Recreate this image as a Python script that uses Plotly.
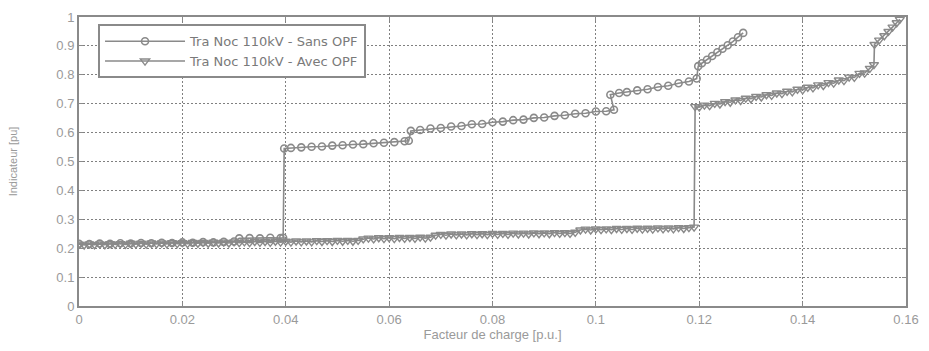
import plotly.graph_objects as go

# ---- data ----
x_sans = [0.000, 0.002, 0.004, 0.006, 0.008, 0.010, 0.012, 0.014, 0.016, 0.018,
          0.020, 0.022, 0.024, 0.026, 0.028, 0.030, 0.031, 0.033, 0.035, 0.037,
          0.039, 0.0395,
          0.0397, 0.041, 0.043, 0.045, 0.047, 0.049, 0.051, 0.053, 0.055, 0.057,
          0.059, 0.061, 0.063, 0.0638,
          0.0642, 0.066, 0.068, 0.070, 0.072, 0.074, 0.076, 0.078, 0.080, 0.082,
          0.084, 0.086, 0.088, 0.090, 0.092, 0.094, 0.096, 0.098, 0.100, 0.102,
          0.1035,
          0.1028, 0.1045, 0.106, 0.108, 0.110, 0.112, 0.114, 0.116, 0.118, 0.1195,
          0.1198, 0.1205, 0.1215, 0.1225, 0.1235, 0.1245, 0.1255, 0.1265, 0.1275,
          0.1285]
y_sans = [0.215, 0.214, 0.216, 0.215, 0.217, 0.216, 0.218, 0.217, 0.219, 0.218,
          0.220, 0.219, 0.221, 0.220, 0.222, 0.223, 0.234, 0.235, 0.234, 0.236,
          0.235, 0.236,
          0.545, 0.547, 0.549, 0.551, 0.552, 0.555, 0.556, 0.559, 0.560, 0.563,
          0.565, 0.567, 0.570, 0.572,
          0.606, 0.609, 0.614, 0.616, 0.621, 0.623, 0.629, 0.630, 0.636, 0.638,
          0.643, 0.645, 0.651, 0.652, 0.658, 0.660, 0.665, 0.667, 0.673, 0.674,
          0.679,
          0.731, 0.737, 0.740, 0.746, 0.750, 0.758, 0.762, 0.771, 0.777, 0.787,
          0.830, 0.840, 0.852, 0.865, 0.878, 0.890, 0.902, 0.915, 0.930, 0.945]

x_avec = [0.000, 0.001, 0.002, 0.003, 0.004, 0.005, 0.006, 0.007, 0.008, 0.009,
          0.010, 0.011, 0.012, 0.013, 0.014, 0.015, 0.016, 0.017, 0.018, 0.019,
          0.020, 0.021, 0.022, 0.023, 0.024, 0.025, 0.026, 0.027, 0.028, 0.029,
          0.030, 0.031, 0.032, 0.033, 0.034, 0.035, 0.036, 0.037, 0.038, 0.039,
          0.040, 0.041, 0.042, 0.043, 0.044, 0.045, 0.046, 0.047, 0.048, 0.049,
          0.050, 0.051, 0.052, 0.053, 0.054, 0.055, 0.056, 0.057, 0.058, 0.059,
          0.060, 0.061, 0.062, 0.063, 0.064, 0.065, 0.066, 0.067, 0.068, 0.069,
          0.070, 0.071, 0.072, 0.073, 0.074, 0.075, 0.076, 0.077, 0.078, 0.079,
          0.080, 0.081, 0.082, 0.083, 0.084, 0.085, 0.086, 0.087, 0.088, 0.089,
          0.090, 0.091, 0.092, 0.093, 0.094, 0.095, 0.096, 0.097, 0.098, 0.099,
          0.100, 0.101, 0.102, 0.103, 0.104, 0.105, 0.106, 0.107, 0.108, 0.109,
          0.110, 0.111, 0.112, 0.113, 0.114, 0.115, 0.116, 0.117, 0.118, 0.119,
          0.1192, 0.120, 0.121, 0.122, 0.123, 0.124, 0.125, 0.126, 0.127, 0.128,
          0.129, 0.130, 0.131, 0.132, 0.133, 0.134, 0.135, 0.136, 0.137, 0.138,
          0.139, 0.140, 0.141, 0.142, 0.143, 0.144, 0.145, 0.146, 0.147, 0.148,
          0.149, 0.150, 0.151, 0.152, 0.153, 0.1538,
          0.1539, 0.1548, 0.1558, 0.1566, 0.1574, 0.1582, 0.1588]
y_avec = [0.214, 0.211, 0.215, 0.212, 0.215, 0.212, 0.216, 0.213, 0.216, 0.213,
          0.217, 0.214, 0.217, 0.214, 0.218, 0.215, 0.218, 0.215, 0.219, 0.216,
          0.219, 0.216, 0.220, 0.217, 0.220, 0.217, 0.221, 0.218, 0.221, 0.218,
          0.222, 0.219, 0.222, 0.219, 0.223, 0.220, 0.223, 0.220, 0.224, 0.221,
          0.224, 0.221, 0.225, 0.222, 0.225, 0.222, 0.226, 0.223, 0.226, 0.223,
          0.227, 0.224, 0.227, 0.224, 0.227, 0.232, 0.235, 0.232, 0.236, 0.233,
          0.236, 0.233, 0.237, 0.234, 0.237, 0.234, 0.238, 0.235, 0.238, 0.245,
          0.248, 0.245, 0.249, 0.246, 0.249, 0.246, 0.250, 0.247, 0.250, 0.247,
          0.251, 0.248, 0.251, 0.248, 0.252, 0.249, 0.252, 0.249, 0.253, 0.250,
          0.253, 0.250, 0.254, 0.251, 0.254, 0.251, 0.255, 0.263, 0.266, 0.263,
          0.267, 0.264, 0.267, 0.264, 0.268, 0.265, 0.268, 0.265, 0.269, 0.266,
          0.269, 0.266, 0.270, 0.267, 0.270, 0.267, 0.271, 0.268, 0.271, 0.273,
          0.690, 0.688, 0.695, 0.693, 0.701, 0.699, 0.707, 0.705, 0.713, 0.711,
          0.719, 0.717, 0.725, 0.723, 0.731, 0.729, 0.737, 0.735, 0.743, 0.741,
          0.750, 0.748, 0.757, 0.755, 0.765, 0.763, 0.773, 0.771, 0.782, 0.780,
          0.792, 0.791, 0.805, 0.806, 0.822, 0.835,
          0.905, 0.920, 0.935, 0.950, 0.965, 0.980, 0.992]

x_ticks = [0, 0.02, 0.04, 0.06, 0.08, 0.1, 0.12, 0.14, 0.16]
x_tick_text = ["0", "0.02", "0.04", "0.06", "0.08", "0.1", "0.12", "0.14", "0.16"]
y_ticks = [0, 0.1, 0.2, 0.3, 0.4, 0.5, 0.6, 0.7, 0.8, 0.9, 1]
y_tick_text = ["0", "0.1", "0.2", "0.3", "0.4", "0.5", "0.6", "0.7", "0.8", "0.9", "1"]

name_sans = "Tra Noc 110kV - Sans OPF"
name_avec = "Tra Noc 110kV - Avec OPF"

GREY = "#8a8a8a"
TXT = "#9a9a9a"
FONT = "Liberation Sans, Arial, sans-serif"

fig = go.Figure()
fig.add_trace(go.Scatter(
    x=x_sans, y=y_sans, name=name_sans, mode="lines+markers",
    line=dict(color=GREY, width=1.6),
    marker=dict(symbol="circle-open", size=7, color=GREY, line=dict(width=1.6)),
))
fig.add_trace(go.Scatter(
    x=x_avec, y=y_avec, name=name_avec, mode="lines+markers",
    line=dict(color=GREY, width=1.6),
    marker=dict(symbol="triangle-down-open", size=8, color=GREY, line=dict(width=1.4)),
))

axis_common = dict(
    showline=True, linecolor=GREY, linewidth=2, mirror="ticks",
    ticks="inside", ticklen=4, tickcolor=GREY, tickwidth=1,
    showgrid=True, gridcolor="#808080", gridwidth=1, griddash="2px,2px",
    zeroline=False,
    tickfont=dict(family=FONT, size=13, color=TXT),
)

fig.update_layout(
    width=929, height=351,
    margin=dict(l=79, r=18, t=10, b=45),
    paper_bgcolor="white", plot_bgcolor="white",
    font=dict(family=FONT, color=TXT),
    showlegend=True,
    legend=dict(
        x=0.023, y=0.975, xanchor="left", yanchor="top",
        bgcolor="white", bordercolor=GREY, borderwidth=2,
        font=dict(family="DejaVu Sans, sans-serif", size=13, color="#7a7a7a"),
        tracegroupgap=0, itemwidth=80,
    ),
    xaxis=dict(
        range=[0, 0.16], tickvals=x_ticks, ticktext=x_tick_text,
        title=dict(text="Facteur de charge [p.u.]", standoff=4,
                   font=dict(family=FONT, size=13, color=TXT)),
        **axis_common,
    ),
    yaxis=dict(
        range=[0, 1], tickvals=y_ticks, ticktext=y_tick_text,
        title=dict(text="Indicateur [pu]", standoff=36,
                   font=dict(family=FONT, size=11, color=TXT)),
        **axis_common,
    ),
)

fig.write_html("out.html", config={"displayModeBar": False},
               post_script="document.body.style.margin='0';")
